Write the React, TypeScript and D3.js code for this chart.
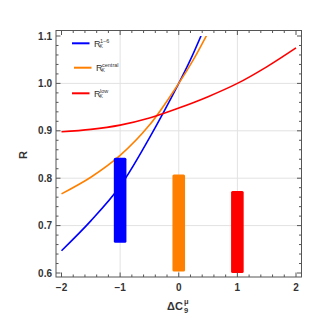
import React from "react";
import * as d3 from "d3";

const blueX = [-2, -1.5, -1, -0.5, 0, 0.2, 0.42];
const blueY = [0.647, 0.71, 0.783, 0.885, 1.0, 1.05, 1.112];
const orangeX = [-2, -1.5, -1, -0.5, 0, 0.25, 0.52];
const orangeY = [0.767, 0.802, 0.848, 0.912, 1.0, 1.05, 1.112];
const redX = [-2, -1.5, -1, -0.5, 0, 0.5, 1, 1.5, 2];
const redY = [0.898, 0.903, 0.912, 0.927, 0.948, 0.972, 1.0, 1.035, 1.075];

const barX = [-1, 0, 1];
const barLow = [0.664, 0.603, 0.6];
const barHigh = [0.843, 0.808, 0.773];

const xTicks = [-2, -1, 0, 1, 2];
const xTickLabels = ["\u22122", "\u22121", "0", "1", "2"];
const yTicks = [0.6, 0.7, 0.8, 0.9, 1.0, 1.1];
const yTickLabels = ["0.6", "0.7", "0.8", "0.9", "1.0", "1.1"];
const xGrid = [-1, 0, 1];
const yGrid = [0.7, 0.8, 0.9, 1.0];

const legendSup = ["1\u22126", "central", "low"];

const BLUE = "#0000ff";
const ORANGE = "#ff8000";
const RED = "#ff0000";
const colors = [BLUE, ORANGE, RED];

export default function App() {
  const left = 56, right = 301.5, top = 30.5, bottom = 277;
  const x = d3.scaleLinear().domain([-2, 2]).range([61.5, 296]);
  const y = d3.scaleLinear().domain([0.6, 1.1]).range([273, 36]);
  const line = d3
    .line<[number, number]>()
    .x((d) => x(d[0]))
    .y((d) => y(d[1]))
    .curve(d3.curveCatmullRom.alpha(0.5));
  const series = [
    blueX.map((v, i) => [v, blueY[i]] as [number, number]),
    orangeX.map((v, i) => [v, orangeY[i]] as [number, number]),
    redX.map((v, i) => [v, redY[i]] as [number, number]),
  ];
  const font = "'Liberation Sans', Arial, sans-serif";
  const textColor = "#333";
  const frameColor = "#555";

  const xMinor: number[] = [];
  for (let i = -10; i <= 10; i++) xMinor.push(i * 0.2);
  const yMinor: number[] = [];
  for (let i = 30; i <= 55; i++) yMinor.push(i * 0.02);

  const isMajorX = (v: number) => Math.abs(v - Math.round(v)) < 1e-6;
  const isMajorY = (v: number) => Math.abs(v * 10 - Math.round(v * 10)) < 1e-6;

  return (
    <div style={{ position: "absolute", left: 0, top: 0 }}>
      <svg width={319} height={321} style={{ display: "block", background: "#fff" }}>
        <defs>
          <clipPath id="plotclip">
            <rect x={left} y={y(1.1)} width={right - left} height={bottom - y(1.1)} />
          </clipPath>
        </defs>
        {xGrid.map((v) => (
          <line key={"gx" + v} x1={x(v)} x2={x(v)} y1={top} y2={bottom} stroke="#e2e2e2" strokeWidth={1} />
        ))}
        {yGrid.map((v) => (
          <line key={"gy" + v} x1={left} x2={right} y1={y(v)} y2={y(v)} stroke="#e2e2e2" strokeWidth={1} />
        ))}
        <g clipPath="url(#plotclip)">
          {series.map((s, i) => (
            <path key={"s" + i} d={line(s) || ""} fill="none" stroke={colors[i]} strokeWidth={1.6} />
          ))}
        </g>
        {barX.map((v, i) => (
          <rect
            key={"b" + i}
            x={x(v) - 6.3}
            width={12.6}
            y={y(barHigh[i])}
            height={y(barLow[i]) - y(barHigh[i])}
            rx={1.5}
            fill={colors[i]}
          />
        ))}
        {/* frame */}
        <rect x={left} y={top} width={right - left} height={bottom - top} fill="none" stroke={frameColor} strokeWidth={1} />
        {xMinor.map((v) => {
          const len = isMajorX(v) ? 4.5 : 2.5;
          return (
            <g key={"xt" + v}>
              <line x1={x(v)} x2={x(v)} y1={bottom} y2={bottom - len} stroke={frameColor} strokeWidth={1} />
              <line x1={x(v)} x2={x(v)} y1={top} y2={top + len} stroke={frameColor} strokeWidth={1} />
            </g>
          );
        })}
        {yMinor.map((v) => {
          const len = isMajorY(v) ? 4.5 : 2.5;
          return (
            <g key={"yt" + v}>
              <line x1={left} x2={left + len} y1={y(v)} y2={y(v)} stroke={frameColor} strokeWidth={1} />
              <line x1={right} x2={right - len} y1={y(v)} y2={y(v)} stroke={frameColor} strokeWidth={1} />
            </g>
          );
        })}
        {xTicks.map((v, i) => (
          <text key={"xl" + v} x={x(v)} y={291} textAnchor="middle" fontFamily={font} fontWeight="bold" fontSize={10} fill={textColor}>
            {xTickLabels[i]}
          </text>
        ))}
        {yTicks.map((v, i) => (
          <text key={"yl" + v} x={52} y={y(v) + 3.6} textAnchor="end" fontFamily={font} fontWeight="bold" fontSize={10} fill={textColor}>
            {yTickLabels[i]}
          </text>
        ))}
        <text x={27} y={155} transform="rotate(-90 27 155)" textAnchor="middle" fontFamily={font} fontWeight="bold" fontSize={11} fill={textColor}>
          R
        </text>
        <g fontFamily={font} fontWeight="bold" fill={textColor}>
          <text x={167} y={310} fontSize={11}>ΔC</text>
          <text x={184} y={313} fontSize={7.5}>9</text>
          <text x={184} y={303.5} fontSize={7.5}>μ</text>
        </g>
        {/* legend */}
        {legendSup.map((s, i) => {
          const ly = [43.3, 67.7, 93.3][i];
          const lx = [72, 74, 72][i];
          const tx = [94, 96, 94][i];
          return (
            <g key={"lg" + i}>
              <line x1={lx} x2={lx + 17.5} y1={ly} y2={ly} stroke={colors[i]} strokeWidth={2} />
              <text x={tx} y={ly + 3.2} fontFamily={font} fontSize={9} fill={textColor}>R</text>
              <text x={tx + 6} y={ly - 0.5} fontFamily={font} fontSize={5.5} fill={textColor}>{s}</text>
              <text x={tx + 5.5} y={ly + 4.5} fontFamily={font} fontSize={5} fill={textColor}>K</text>
            </g>
          );
        })}
      </svg>
    </div>
  );
}
